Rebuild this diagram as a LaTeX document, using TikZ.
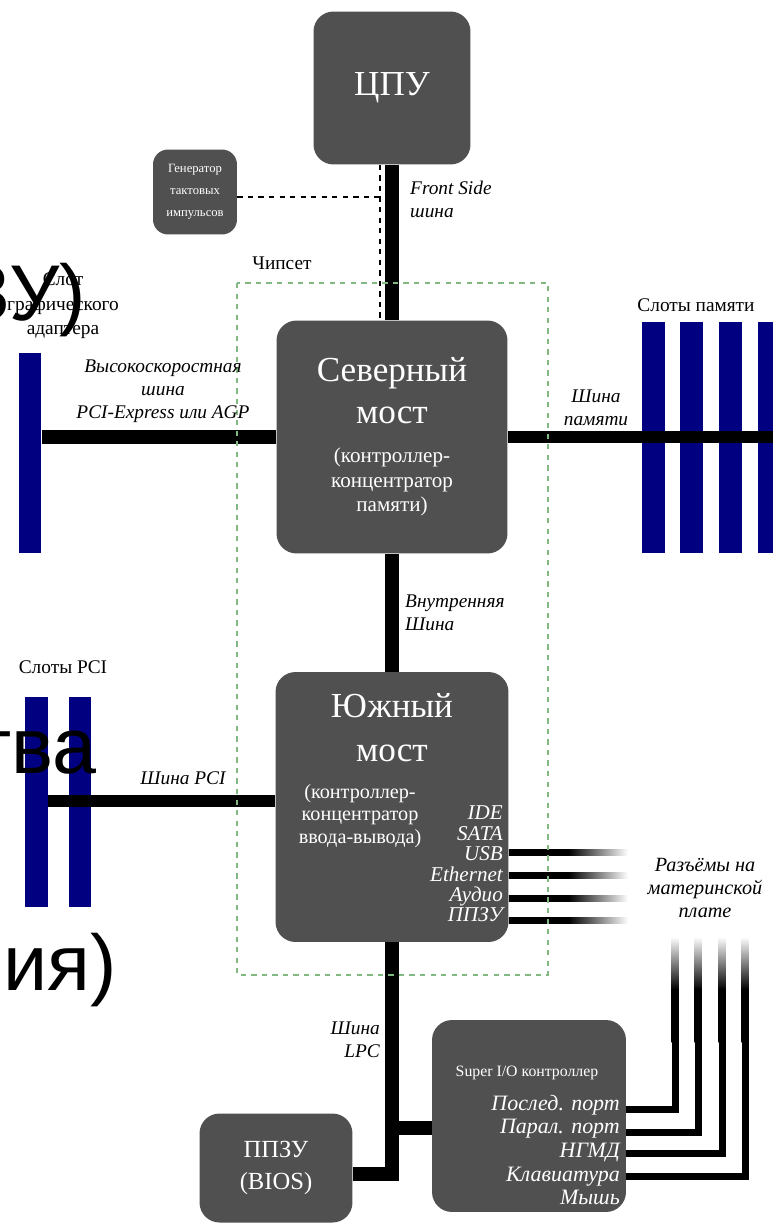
\documentclass[tikz,border=0pt]{standalone}
\usepackage{fontspec}
\setmainfont{Liberation Serif}
\newfontfamily\overlayfont{Liberation Sans}
\usetikzlibrary{positioning}

\definecolor{chipgray}{RGB}{80,80,80}
\definecolor{slotblue}{RGB}{0,0,128}
\definecolor{chipsetgreen}{RGB}{130,185,130}

% black on one side, fading out to white on the other
\pgfdeclarehorizontalshading{plugfade}{100bp}{color(0bp)=(black); color(25bp)=(black); color(50bp)=(black); color(75bp)=(white); color(100bp)=(white)}
\pgfdeclareverticalshading{plugrise}{100bp}{color(0bp)=(black); color(25bp)=(black); color(50bp)=(black); color(75bp)=(white); color(100bp)=(white)}

\begin{document}
\begin{tikzpicture}[
        x=0.02cm, y=-0.02cm,
        font=\fontsize{11}{14}\selectfont,
        chip/.style={
            fill=chipgray,
            text=white,
            rounded corners=0.4cm,
            align=center,
            inner sep=2pt
        },
        chiptext/.style={text=white, align=center},
        slot/.style={fill=slotblue, minimum width=0.46cm, inner sep=0pt},
        bus/.style={line width=0.28cm},
        thinbus/.style={line width=0.24cm},
        plug/.style={line width=0.14cm},
        clockline/.style={dashed, line width=0.6pt},
        chipsetline/.style={draw=chipsetgreen, dashed, line width=0.8pt},
        busname/.style={font=\itshape\fontsize{11}{13}\selectfont, align=center},
        caption/.style={align=center},
        backtext/.style={font=\overlayfont\fontsize{45}{50}\selectfont, inner sep=0pt, anchor=base east}
    ]

    \useasboundingbox (0,0) rectangle (773,1224);

    % chips
    \node[chip, minimum width=3.14cm, minimum height=3.06cm, font=\fontsize{20}{24}\selectfont] (cpu) at (392,88) {ЦПУ};
    \node[chip, rounded corners=0.3cm, minimum width=1.68cm, minimum height=1.7cm, font=\fontsize{7.2}{12.5}\selectfont] (gen) at (195,192) {Генератор\\тактовых\\импульсов};
    \node[chip, minimum width=4.62cm, minimum height=4.66cm, font=\fontsize{12}{14}\selectfont] (nb) at (392,437) {{\fontsize{20}{24}\selectfont Северный}\\[10pt]{\fontsize{20}{24}\selectfont мост}\\[8pt](контроллер-\\концентратор\\памяти)};
    \node[chip, minimum width=4.66cm, minimum height=5.4cm] (sb) at (392,807) {};
    \node[chip, minimum width=3.88cm, minimum height=3.84cm] (sio) at (529,1116) {};
    \node[chip, minimum width=3.06cm, minimum height=2.18cm, font=\fontsize{14}{18}\selectfont] (bios) at (276,1168) {ППЗУ\\(BIOS)};

    \node[chiptext, font=\fontsize{20}{25}\selectfont] (sbname) at (392,728) {Южный\\мост};
    \node[chiptext, font=\fontsize{11.5}{12.8}\selectfont] (sbrole) at (360,816) {(контроллер-\\концентратор\\ввода-вывода)};
    \node[chiptext, align=right, anchor=east, font=\itshape\fontsize{12}{11.6}\selectfont] (sbports) at (509,864) {IDE\\SATA\\USB\\Ethernet\\Аудио\\ППЗУ};
    \node[chiptext, font=\fontsize{9}{11}\selectfont] (siotitle) at (527,1073) {Super I/O контроллер};
    \node[chiptext, align=right, anchor=east, font=\itshape\fontsize{12.5}{13.4}\selectfont] (sioports) at (626,1150) {Послед. порт\\Парал. порт\\НГМД\\Клавиатура\\Мышь};

    % slots
    \node[slot, minimum height=4cm] (agp) at (30,453) {};
    \foreach \x [count=\i] in {653,691,730,769}
        \node[slot, minimum height=4.62cm] (mem\i) at (\x,437.5) {};
    \foreach \x [count=\i] in {36.5,80}
        \node[slot, minimum height=4.2cm] (pci\i) at (\x,802) {};

    % buses
    \coordinate (clk) at (380,197);
    \draw[clockline] (gen.east |- clk) -- (clk);
    \draw[clockline] (clk |- cpu.south) -- (clk |- nb.north);

    \draw[bus] (cpu.south) -- (nb.north);
    \draw[bus] (nb.south) -- (sb.north);
    \draw[bus] (agp.east |- nb.west) -- (nb.west);
    \draw[thinbus] (nb.east) -- (mem4.east |- nb.east);

    \coordinate (pcibus) at (0,801);
    \draw[thinbus] (pci1.east |- pcibus) -- (sb.west |- pcibus);

    \coordinate (lpcbend) at (392,1174);
    \coordinate (lpcfork) at (392,1128);
    \draw[bus] (sb.south) -- (lpcbend) -- (lpcbend -| bios.east);
    \draw[bus] (lpcfork) -- (lpcfork -| sio.west);

    \foreach \y [count=\i] in {852,875,898,920} {
        \coordinate (plug\i) at (628,\y);
        \shade[shading=plugfade] (sb.east |- plug\i) ++(0,-3) rectangle ([yshift=-0.06cm]plug\i);
    }
    \foreach \x/\y [count=\i] in {675/1109,698/1132,722/1153,745/1176} {
        \coordinate (bend\i) at (\x,\y);
        \draw[plug] (sio.east |- bend\i) -- (bend\i) -- ++(0,{1040-\y});
        \shade[shading=plugrise] (\x-3.5,937) rectangle (\x+3.5,1042);
    }

    \draw[chipsetline] (237,283) rectangle (548,975);

    % labels
    \node (chipset) at (282,263) {Чипсет};
    \node[busname, anchor=west, align=left] (fsblabel) at (404,199) {Front Side\\шина};
    \node[caption] (agpslotlabel) at (63,306) {Слот\\графического\\адаптера};
    \node[busname] (agplabel) at (163,391) {Высокоскоростная\\шина\\PCI-Express или AGP};
    \node[caption] (memlabel) at (696,305) {Слоты памяти};
    \node[busname] (membuslabel) at (596,408) {Шина\\памяти};
    \node[busname, anchor=west, align=left] (intlabel) at (399,613) {Внутренняя\\Шина};
    \node[caption] (pcilabel) at (63,667) {Слоты PCI};
    \node[busname] (pcibuslabel) at (183,778) {Шина PCI};
    \node[busname, font=\itshape\fontsize{11.5}{13}\selectfont] (pluglabel) at (705,888) {Разъёмы на\\материнской\\плате};
    \node[busname, anchor=east, align=right] (lpclabel) at (386,1040) {Шина\\LPC};

    % slide text showing through
    \node[backtext] (bgzu) at (86,320) {ЗУ)};
    \node[backtext] (bgtva) at (97,773) {тва};
    \node[backtext] (bgiya) at (117,990) {ия)};

\end{tikzpicture}
\end{document}
